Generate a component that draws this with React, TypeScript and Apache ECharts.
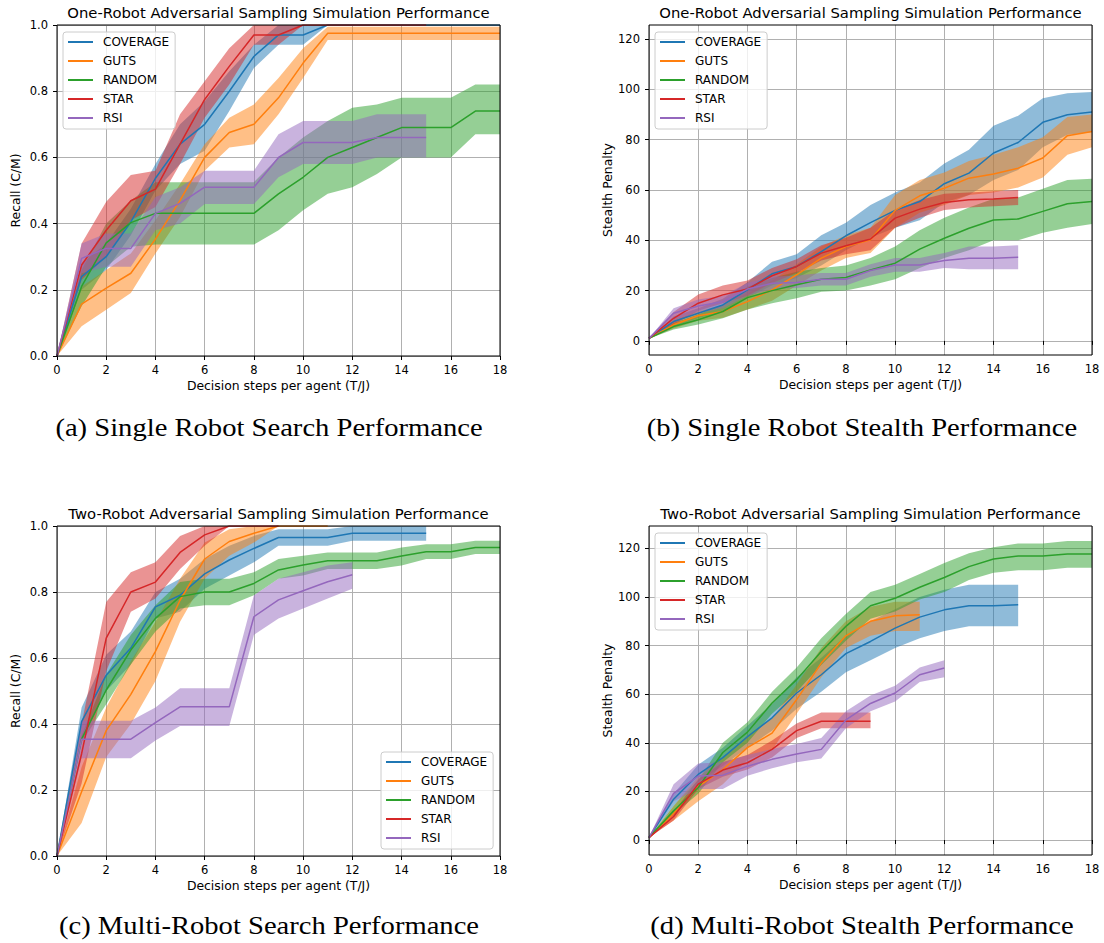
import React, { useEffect, useRef } from "react";
import * as echarts from "echarts";

const METHODS = ["COVERAGE", "GUTS", "RANDOM", "STAR", "RSI"];
const COLORS = ["#1f77b4", "#ff7f0e", "#2ca02c", "#d62728", "#9467bd"];
const BAND_COLORS = ["rgba(31,119,180,0.5)", "rgba(255,127,14,0.5)", "rgba(44,160,44,0.5)", "rgba(214,39,40,0.5)", "rgba(148,103,189,0.5)"];
const xTicks = [0, 2, 4, 6, 8, 10, 12, 14, 16, 18];
const recallTicks = [0, 0.2, 0.4, 0.6, 0.8, 1.0];
const stealthTicks = [0, 20, 40, 60, 80, 100, 120];

// (a) single robot recall
const aCovMean = [0, 0.24, 0.3, 0.405, 0.537, 0.64, 0.7, 0.8, 0.905, 0.97, 0.97, 1, 1, 1, 1, 1, 1, 1, 1];
const aCovLo = [0, 0.2, 0.26, 0.365, 0.5, 0.58, 0.62, 0.74, 0.87, 0.94, 0.94, 1, 1, 1, 1, 1, 1, 1, 1];
const aCovHi = [0, 0.28, 0.34, 0.445, 0.58, 0.7, 0.77, 0.86, 0.94, 1, 1, 1, 1, 1, 1, 1, 1, 1, 1];
const aGutsMean = [0, 0.157, 0.205, 0.25, 0.353, 0.47, 0.6, 0.675, 0.7, 0.78, 0.885, 0.975, 0.975, 0.975, 0.975, 0.975, 0.975, 0.975, 0.975];
const aGutsLo = [0, 0.09, 0.14, 0.19, 0.31, 0.42, 0.56, 0.63, 0.64, 0.73, 0.84, 0.955, 0.955, 0.955, 0.955, 0.955, 0.955, 0.955, 0.955];
const aGutsHi = [0, 0.21, 0.26, 0.31, 0.41, 0.52, 0.64, 0.72, 0.76, 0.84, 0.93, 0.995, 0.995, 0.995, 0.995, 0.995, 0.995, 0.995, 0.995];
const aRandMean = [0, 0.21, 0.342, 0.403, 0.431, 0.431, 0.431, 0.431, 0.431, 0.49, 0.54, 0.6, 0.63, 0.66, 0.69, 0.69, 0.69, 0.74, 0.74];
const aRandLo = [0, 0.15, 0.27, 0.33, 0.337, 0.337, 0.337, 0.337, 0.337, 0.38, 0.44, 0.49, 0.51, 0.55, 0.6, 0.6, 0.6, 0.67, 0.67];
const aRandHi = [0, 0.26, 0.4, 0.47, 0.525, 0.525, 0.525, 0.525, 0.525, 0.6, 0.66, 0.71, 0.75, 0.76, 0.78, 0.78, 0.78, 0.82, 0.82];
const aStarMean = [0, 0.275, 0.38, 0.469, 0.504, 0.64, 0.775, 0.875, 0.97, 0.97, 1, 1, 1, 1, 1, 1];
const aStarLo = [0, 0.23, 0.3, 0.41, 0.45, 0.58, 0.72, 0.82, 0.94, 0.94, 1, 1, 1, 1, 1, 1];
const aStarHi = [0, 0.34, 0.466, 0.547, 0.56, 0.73, 0.83, 0.93, 1, 1, 1, 1, 1, 1, 1, 1];
const aRsiMean = [0, 0.295, 0.325, 0.325, 0.431, 0.461, 0.51, 0.51, 0.51, 0.6, 0.645, 0.645, 0.645, 0.66, 0.66, 0.66];
const aRsiLo = [0, 0.25, 0.27, 0.27, 0.38, 0.4, 0.459, 0.459, 0.459, 0.54, 0.58, 0.58, 0.58, 0.6, 0.6, 0.6];
const aRsiHi = [0, 0.34, 0.37, 0.37, 0.48, 0.51, 0.56, 0.56, 0.56, 0.67, 0.71, 0.71, 0.71, 0.73, 0.73, 0.73];

// (b) single robot stealth
const bCovMean = [1, 7.7, 11, 14.3, 20.3, 26.7, 29.6, 35.5, 41.8, 47, 51.9, 55.4, 62.5, 66.7, 74.7, 78.9, 86.9, 89.9, 91];
const bCovLo = [1, 5.7, 9, 11.8, 17.3, 22, 25, 30, 36, 41, 45, 48, 55, 58, 64, 68, 77, 82, 83];
const bCovHi = [1, 9.7, 13, 16.8, 23.3, 31.5, 34.5, 42, 47, 54, 59, 63, 70.5, 76, 85.5, 89.5, 96.5, 98.5, 99];
const bGutsMean = [1, 6.4, 10, 11.7, 15.6, 20.3, 26.3, 32.9, 37.5, 40.2, 51.9, 57.7, 60.7, 64.7, 66.4, 68.7, 72.7, 81.6, 83.3];
const bGutsLo = [1, 4.9, 8, 9.2, 12.5, 16, 22, 28, 33, 35, 45, 51, 54, 58, 59, 61, 65, 74, 77];
const bGutsHi = [1, 7.9, 12, 14.2, 19, 24, 30.5, 37.5, 42, 45, 58, 64, 67, 71.5, 74, 77, 81, 89, 90];
const bRandMean = [1, 5.7, 8.4, 11.7, 17.2, 20, 22.3, 24.5, 25.2, 28.2, 30.9, 36.5, 40.8, 44.8, 48.1, 48.5, 51.5, 54.5, 55.4];
const bRandLo = [1, 4.5, 6.5, 9, 12.5, 15, 17, 19.5, 20, 22, 24.5, 29, 33, 36, 40, 40, 43, 45, 46.5];
const bRandHi = [1, 7, 10.5, 14.5, 21.5, 25, 27.5, 29, 30, 33, 37.5, 44, 49, 53, 56.5, 57, 60.5, 64, 64.5];
const bStarMean = [1, 9, 15, 18.3, 20.6, 25.9, 29.6, 34.9, 37.8, 40.5, 48.8, 52.4, 55, 56.1, 56.4, 57];
const bStarLo = [1, 6.5, 12, 15, 18, 23, 27, 32, 34.5, 36, 45, 49, 52, 53, 53.5, 54];
const bStarHi = [1, 11.5, 18.5, 22, 24, 29, 32.5, 38, 41, 45, 52, 56, 58.5, 59, 59.5, 60];
const bRsiMean = [1, 11, 13.9, 15.6, 20.6, 22.9, 23.2, 24.5, 24.5, 28, 30.2, 30.2, 32, 32.9, 32.9, 33.3];
const bRsiLo = [1, 8.5, 11, 13, 18, 20.5, 21, 22, 22, 25.5, 27.5, 27.5, 29, 28.5, 28.5, 28.5];
const bRsiHi = [1, 13, 16.5, 18, 23, 25.5, 26, 27, 27, 30.5, 33, 33, 35, 37.5, 37.5, 38];

// (c) multi robot recall
const cCovMean = [0, 0.407, 0.548, 0.63, 0.755, 0.79, 0.855, 0.897, 0.932, 0.965, 0.965, 0.965, 0.978, 0.978, 0.978, 0.978];
const cCovLo = [0, 0.35, 0.5, 0.58, 0.72, 0.74, 0.81, 0.85, 0.89, 0.94, 0.94, 0.94, 0.955, 0.955, 0.955, 0.955];
const cCovHi = [0, 0.45, 0.61, 0.68, 0.8, 0.84, 0.9, 0.94, 0.97, 0.99, 0.99, 0.99, 1, 1, 1, 1];
const cGutsMean = [0, 0.195, 0.38, 0.49, 0.62, 0.775, 0.9, 0.953, 0.978, 1, 1, 1];
const cGutsLo = [0, 0.1, 0.3, 0.4, 0.53, 0.71, 0.84, 0.91, 0.95, 1, 1, 1];
const cGutsHi = [0, 0.27, 0.45, 0.59, 0.71, 0.84, 0.95, 0.99, 1, 1, 1, 1];
const cRandMean = [0, 0.354, 0.503, 0.624, 0.72, 0.786, 0.8, 0.8, 0.826, 0.867, 0.882, 0.895, 0.895, 0.895, 0.909, 0.922, 0.922, 0.935, 0.935];
const cRandLo = [0, 0.345, 0.46, 0.58, 0.68, 0.75, 0.76, 0.76, 0.79, 0.84, 0.85, 0.87, 0.87, 0.87, 0.88, 0.9, 0.9, 0.915, 0.915];
const cRandHi = [0, 0.365, 0.55, 0.67, 0.76, 0.83, 0.84, 0.84, 0.86, 0.9, 0.91, 0.92, 0.92, 0.92, 0.935, 0.945, 0.945, 0.955, 0.955];
const cStarMean = [0, 0.31, 0.66, 0.8, 0.83, 0.92, 0.973, 1, 1, 1];
const cStarLo = [0, 0.22, 0.56, 0.74, 0.78, 0.87, 0.94, 1, 1, 1];
const cStarHi = [0, 0.4, 0.77, 0.86, 0.89, 0.97, 1, 1, 1, 1];
const cRsiMean = [0, 0.354, 0.354, 0.354, 0.404, 0.452, 0.452, 0.452, 0.725, 0.776, 0.804, 0.831, 0.852];
const cRsiLo = [0, 0.296, 0.296, 0.296, 0.35, 0.394, 0.394, 0.394, 0.67, 0.72, 0.75, 0.78, 0.81];
const cRsiHi = [0, 0.41, 0.41, 0.41, 0.45, 0.508, 0.508, 0.508, 0.79, 0.84, 0.86, 0.88, 0.89];

// (d) multi robot stealth
const dCovMean = [1, 16.8, 27, 33.9, 42.5, 50.3, 60.5, 68, 76.7, 81.7, 87.2, 91.7, 94.7, 96.4, 96.4, 96.8];
const dCovLo = [1, 14, 24, 30.5, 38, 45, 54, 61, 69, 74, 79, 83, 86, 88, 88, 88];
const dCovHi = [1, 19, 31, 38, 47, 56, 67, 75, 84, 90, 95, 100, 103, 105, 105, 105];
const dGutsMean = [1, 11, 22, 29, 38, 44, 57.8, 72.8, 84, 90, 92.3, 92.7];
const dGutsLo = [1, 8, 16, 23, 33, 37, 52, 67, 79, 84, 86, 86];
const dGutsHi = [1, 14, 26, 34, 43, 50, 64, 79, 90, 96, 98, 98];
const dRandMean = [1, 12, 21.6, 36, 44.4, 56.4, 66, 77.6, 87.9, 96.4, 99.5, 104, 108, 112.5, 115.6, 116.9, 116.9, 117.7, 117.7];
const dRandLo = [1, 10.5, 19, 32, 40, 52, 61, 72, 82, 91, 94, 99, 102, 107, 110, 111, 111, 112, 112];
const dRandHi = [1, 14, 24.5, 40, 48.5, 61, 71, 83, 93, 102, 105, 109.5, 114, 118, 120.5, 122, 122, 123, 123];
const dStarMean = [1, 9.7, 23, 28.8, 31.8, 37.3, 45, 48.9, 48.9, 48.9];
const dStarLo = [1, 8, 21, 26, 29, 34, 42, 46, 46, 46];
const dStarHi = [1, 11.5, 25, 32, 35, 41, 48, 52.5, 52.5, 52.5];
const dRsiMean = [1, 19.2, 26.3, 26.7, 30.4, 33.2, 35.4, 37.3, 49.4, 56.2, 60.5, 68, 70.8];
const dRsiLo = [1, 16, 21, 21, 26.5, 29.5, 32, 33.5, 46, 53, 57, 65, 67];
const dRsiHi = [1, 23, 31.5, 32, 35, 37.5, 39.5, 42, 53, 59.5, 63.5, 71, 74];

const titles = [
  "One-Robot Adversarial Sampling Simulation Performance",
  "One-Robot Adversarial Sampling Simulation Performance",
  "Two-Robot Adversarial Sampling Simulation Performance",
  "Two-Robot Adversarial Sampling Simulation Performance",
];
const yNames = ["Recall (C/M)", "Stealth Penalty", "Recall (C/M)", "Stealth Penalty"];
const xName = "Decision steps per agent (T/J)";
const captions = [
  "(a) Single Robot Search Performance",
  "(b) Single Robot Stealth Performance",
  "(c) Multi-Robot Search Performance",
  "(d) Multi-Robot Stealth Performance",
];

const panelData = [
  { mean: [aCovMean, aGutsMean, aRandMean, aStarMean, aRsiMean], lo: [aCovLo, aGutsLo, aRandLo, aStarLo, aRsiLo], hi: [aCovHi, aGutsHi, aRandHi, aStarHi, aRsiHi] },
  { mean: [bCovMean, bGutsMean, bRandMean, bStarMean, bRsiMean], lo: [bCovLo, bGutsLo, bRandLo, bStarLo, bRsiLo], hi: [bCovHi, bGutsHi, bRandHi, bStarHi, bRsiHi] },
  { mean: [cCovMean, cGutsMean, cRandMean, cStarMean, cRsiMean], lo: [cCovLo, cGutsLo, cRandLo, cStarLo, cRsiLo], hi: [cCovHi, cGutsHi, cRandHi, cStarHi, cRsiHi] },
  { mean: [dCovMean, dGutsMean, dRandMean, dStarMean, dRsiMean], lo: [dCovLo, dGutsLo, dRandLo, dStarLo, dRsiLo], hi: [dCovHi, dGutsHi, dRandHi, dStarHi, dRsiHi] },
];

const FONT = "DejaVu Sans";
const SERIF = "Liberation Serif";

const grids = [
  { left: 57, top: 25, width: 443, height: 331 },
  { left: 649, top: 25, width: 443, height: 330 },
  { left: 57, top: 526, width: 443, height: 330 },
  { left: 649, top: 526, width: 443, height: 329 },
];
const yRanges = [
  { min: 0, max: 1 },
  { min: -5.6, max: 125.6 },
  { min: 0, max: 1 },
  { min: -6.15, max: 129.2 },
];
const legendPos = [
  { left: 63, top: 32 },
  { left: 655, top: 32 },
  { left: 381, top: 752 },
  { left: 655, top: 533 },
];

function buildOption() {
  const series: any[] = [];
  panelData.forEach((p, pi) => {
    METHODS.forEach((m, mi) => {
      const lo = p.lo[mi];
      const hi = p.hi[mi];
      const mean = p.mean[mi];
      series.push({
        type: "custom",
        name: `${m}-band-${pi}`,
        xAxisIndex: pi,
        yAxisIndex: pi,
        clip: true,
        silent: true,
        data: lo.map((v, i) => [i, v, hi[i]]),
        encode: { x: 0, y: [1, 2] },
        renderItem: (params: any, api: any) => {
          if (params.dataIndex !== 0) return null;
          const upper = hi.map((v, i) => api.coord([i, v]));
          const lower = lo.map((v, i) => api.coord([i, v])).reverse();
          return {
            type: "polygon",
            shape: { points: upper.concat(lower) },
            style: { fill: BAND_COLORS[mi], stroke: "none" },
          };
        },
      });
      series.push({
        type: "line",
        name: m,
        color: COLORS[mi],
        xAxisIndex: pi,
        yAxisIndex: pi,
        data: mean.map((v, i) => [i, v]),
        symbol: "none",
        lineStyle: { width: 1.5, color: COLORS[mi] },
      });
    });
  });

  const xAxis = grids.map((_, i) => ({
    type: "value",
    gridIndex: i,
    min: 0,
    max: 18,
    interval: 2,
    axisLine: { show: false },
    axisTick: { show: true, length: 4, lineStyle: { color: "#000", width: 1 } },
    axisLabel: { color: "#000", fontSize: 11.5, fontFamily: FONT, margin: 8, customValues: xTicks },
    splitLine: { show: true, lineStyle: { color: "#b0b0b0", width: 1 } },
  }));

  const yAxis = grids.map((_, i) => {
    const recall = i % 2 === 0;
    const ticks = recall ? recallTicks : stealthTicks;
    return {
      type: "value",
      gridIndex: i,
      min: yRanges[i].min,
      max: yRanges[i].max,
      axisLine: { show: false },
      axisTick: { show: true, length: 4, lineStyle: { color: "#000", width: 1 }, customValues: ticks },
      axisLabel: {
        color: "#000",
        fontSize: 11.5,
        fontFamily: FONT,
        margin: 9,
        customValues: ticks,
        formatter: (v: number) => (recall ? v.toFixed(1) : String(Math.round(v))),
      },
      splitLine: { show: true, lineStyle: { color: "#b0b0b0", width: 1 } },
    };
  });

  const legend = legendPos.map((pos) => ({
    orient: "vertical",
    left: pos.left,
    top: pos.top,
    data: METHODS,
    icon: "rect",
    itemWidth: 25,
    itemHeight: 2,
    itemGap: 5,
    padding: [3, 6, 4, 5],
    backgroundColor: "rgba(255,255,255,0.8)",
    borderColor: "#cccccc",
    borderWidth: 1,
    borderRadius: 3,
    selectedMode: false,
    textStyle: { fontSize: 12, fontFamily: FONT, color: "#000", lineHeight: 14, padding: [0, 0, 0, 5] },
  }));

  const graphic: any[] = [];
  grids.forEach((g, i) => {
    const cx = g.left + g.width / 2;
    const cy = g.top + g.height / 2;
    graphic.push({
      type: "rect",
      shape: { x: g.left, y: g.top, width: g.width, height: g.height },
      style: { fill: "none", stroke: "#000", lineWidth: 1 },
      z: 100,
      silent: true,
    });
    graphic.push({
      type: "text",
      x: cx,
      y: g.top - 13,
      style: { text: titles[i], fontSize: 14.8, fontFamily: FONT, fill: "#000", textAlign: "center", textVerticalAlign: "middle" },
      z: 100,
    });
    graphic.push({
      type: "text",
      x: cx,
      y: g.top + g.height + 29,
      style: { text: xName, fontSize: 12.4, fontFamily: FONT, fill: "#000", textAlign: "center", textVerticalAlign: "middle" },
      z: 100,
    });
    graphic.push({
      type: "text",
      x: g.left - 42,
      y: cy,
      rotation: Math.PI / 2,
      style: { text: yNames[i], fontSize: 12.4, fontFamily: FONT, fill: "#000", textAlign: "center", textVerticalAlign: "middle" },
      z: 100,
    });
    graphic.push({
      type: "text",
      x: i % 2 === 0 ? 269 : 862,
      y: i < 2 ? 427 : 925,
      scaleX: 1.1,
      style: { text: captions[i], fontSize: 26, fontFamily: SERIF, fill: "#000", textAlign: "center", textVerticalAlign: "middle" },
      z: 100,
    });
  });

  return {
    animation: false,
    backgroundColor: "#fff",
    grid: grids.map((g) => ({ ...g, containLabel: false })),
    xAxis,
    yAxis,
    legend,
    series,
    graphic,
  };
}

export default function App() {
  const ref = useRef<HTMLDivElement>(null);
  useEffect(() => {
    if (!ref.current) return;
    const chart = echarts.init(ref.current, null, { renderer: "svg" });
    chart.setOption(buildOption() as any);
    return () => chart.dispose();
  }, []);
  return (
    <div
      ref={ref}
      style={{ position: "fixed", left: 0, top: 0, width: 1104, height: 943, background: "#fff" }}
    />
  );
}
